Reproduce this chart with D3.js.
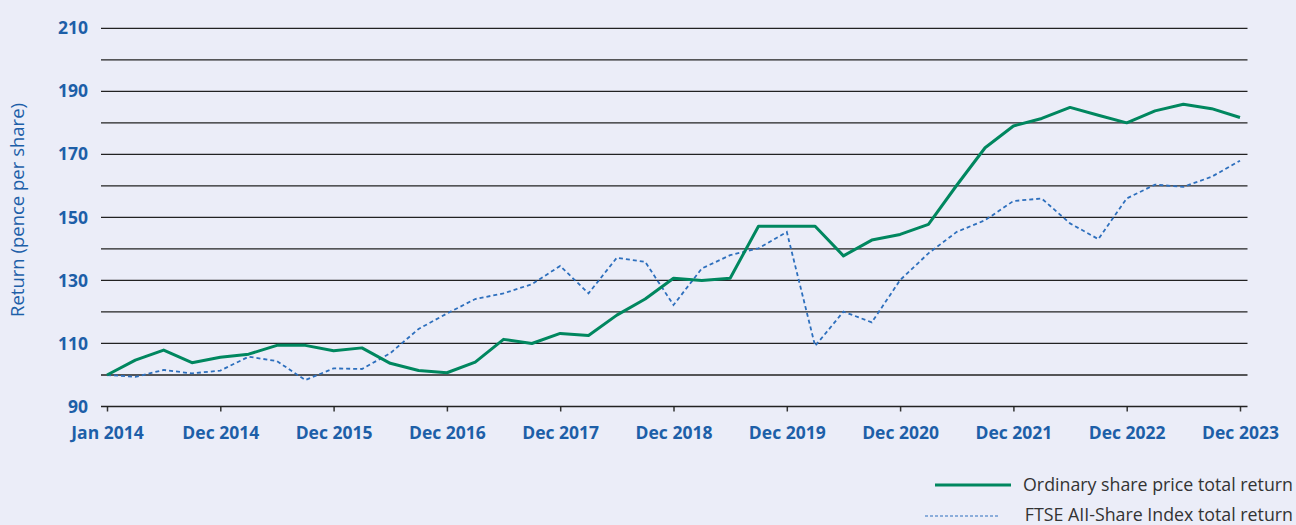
<!DOCTYPE html>
<html>
<head>
<meta charset="utf-8">
<script src="https://cdn.jsdelivr.net/npm/d3@7"></script>
<style>
  body { margin: 0; background: #ebedf8; }
  svg { display: block; font-family: "Open Sans", sans-serif; }
</style>
</head>
<body>
<div id="chart"></div>
<script>
// Quarterly points, Jan 2014 .. Dec 2023
var tickLabels = ["Jan 2014", "Dec 2014", "Dec 2015", "Dec 2016", "Dec 2017",
  "Dec 2018", "Dec 2019", "Dec 2020", "Dec 2021", "Dec 2022", "Dec 2023"];

var shareReturn = [100, 104.7, 107.9, 103.9, 105.6, 106.6, 109.4, 109.4, 107.7, 108.6,
  103.7, 101.4, 100.7, 104.1, 111.3, 110.0, 113.2, 112.5, 119.0, 124.1,
  130.7, 130.0, 130.7, 147.2, 147.2, 147.2, 137.8, 142.8, 144.6, 147.8,
  160.2, 172.1, 179.0, 181.4, 184.9, 182.4, 180.0, 183.8, 185.9, 184.5, 181.7];

var ftseReturn = [100, 99.4, 101.6, 100.5, 101.4, 105.8, 104.4, 98.4, 102.1, 101.9,
  106.9, 114.6, 119.5, 124.1, 125.9, 128.8, 134.6, 125.9, 137.2, 135.9,
  122.2, 133.8, 138.0, 140.2, 145.4, 109.2, 120.1, 116.7, 130.1, 138.6,
  145.4, 149.1, 155.2, 156.0, 148.1, 143.1, 156.0, 160.4, 159.7, 162.9, 168.0];

var yTicks = [90, 110, 130, 150, 170, 190, 210];
var gridValues = d3.range(100, 211, 10);

var svgWidth = 1296;
var svgHeight = 525;

var svg = d3.select("#chart")
  .append("svg")
  .attr("width", svgWidth)
  .attr("height", svgHeight);

svg.append("rect")
  .attr("width", svgWidth)
  .attr("height", svgHeight)
  .attr("fill", "#ebedf8");

var xScale = d3.scaleLinear()
  .domain([0, shareReturn.length - 1])
  .range([107, 1240]);

var yScale = d3.scaleLinear()
  .domain([90, 210])
  .range([406.5, 28.3]);

var textBlue = "#1d5fa8";

// gridlines
svg.append("g")
  .selectAll("line")
  .data(gridValues)
  .enter()
  .append("line")
  .attr("x1", 101)
  .attr("x2", 1247.5)
  .attr("y1", d => yScale(d))
  .attr("y2", d => yScale(d))
  .attr("stroke", "#222")
  .attr("stroke-width", 1.3);

// y axis labels (no line)
var leftAxis = d3.axisLeft(yScale)
  .tickValues(yTicks)
  .tickSize(0)
  .tickPadding(0);

var yAxisG = svg.append("g")
  .attr("transform", "translate(88, 0)")
  .call(leftAxis);
yAxisG.select(".domain").remove();
yAxisG.selectAll("text")
  .style("font-size", "17.5px")
  .style("font-weight", "bold")
  .style("font-family", "Open Sans, sans-serif")
  .attr("fill", textBlue);

// x axis
var bottomAxis = d3.axisBottom(xScale)
  .tickValues(d3.range(0, 41, 4))
  .tickFormat((d, i) => tickLabels[i])
  .tickSize(5)
  .tickPadding(15);

var xAxisG = svg.append("g")
  .attr("transform", "translate(0, 406.5)")
  .call(bottomAxis);
xAxisG.select(".domain").remove();
xAxisG.append("line")
  .attr("x1", 101)
  .attr("x2", 1247.5)
  .attr("stroke", "#222")
  .attr("stroke-width", 1.5);
xAxisG.selectAll(".tick line")
  .attr("stroke", "#333")
  .attr("stroke-width", 1.5);
xAxisG.selectAll("text")
  .style("font-size", "17.5px")
  .style("font-weight", "bold")
  .style("font-family", "Open Sans, sans-serif")
  .attr("fill", textBlue);

// y axis title
svg.append("text")
  .attr("transform", "translate(24, 210) rotate(-90)")
  .attr("text-anchor", "middle")
  .style("font-size", "18.5px")
  .attr("fill", textBlue)
  .text("Return (pence per share)");

// lines
var line = d3.line()
  .x((d, i) => xScale(i))
  .y(d => yScale(d));

svg.append("path")
  .datum(ftseReturn)
  .attr("d", line)
  .attr("fill", "none")
  .attr("stroke", "#2d6fbd")
  .attr("stroke-width", 1.8)
  .attr("stroke-dasharray", "4,3");

svg.append("path")
  .datum(shareReturn)
  .attr("d", line)
  .attr("fill", "none")
  .attr("stroke", "#00875f")
  .attr("stroke-width", 3)
  .attr("stroke-linejoin", "round");

// legend
var legend = svg.append("g");
legend.append("line")
  .attr("x1", 935).attr("x2", 1011)
  .attr("y1", 485).attr("y2", 485)
  .attr("stroke", "#00875f")
  .attr("stroke-width", 3);
legend.append("text")
  .attr("x", 1293).attr("y", 491)
  .attr("text-anchor", "end")
  .style("font-size", "17.8px")
  .attr("fill", "#333")
  .text("Ordinary share price total return");

legend.append("line")
  .attr("x1", 925).attr("x2", 1000)
  .attr("y1", 516).attr("y2", 516)
  .attr("stroke", "#2d6fbd")
  .attr("stroke-width", 1.2)
  .attr("stroke-dasharray", "3,2");
legend.append("text")
  .attr("x", 1293).attr("y", 521)
  .attr("text-anchor", "end")
  .style("font-size", "17.8px")
  .attr("fill", "#333")
  .text("FTSE AII-Share Index total return");
</script>
</body>
</html>
